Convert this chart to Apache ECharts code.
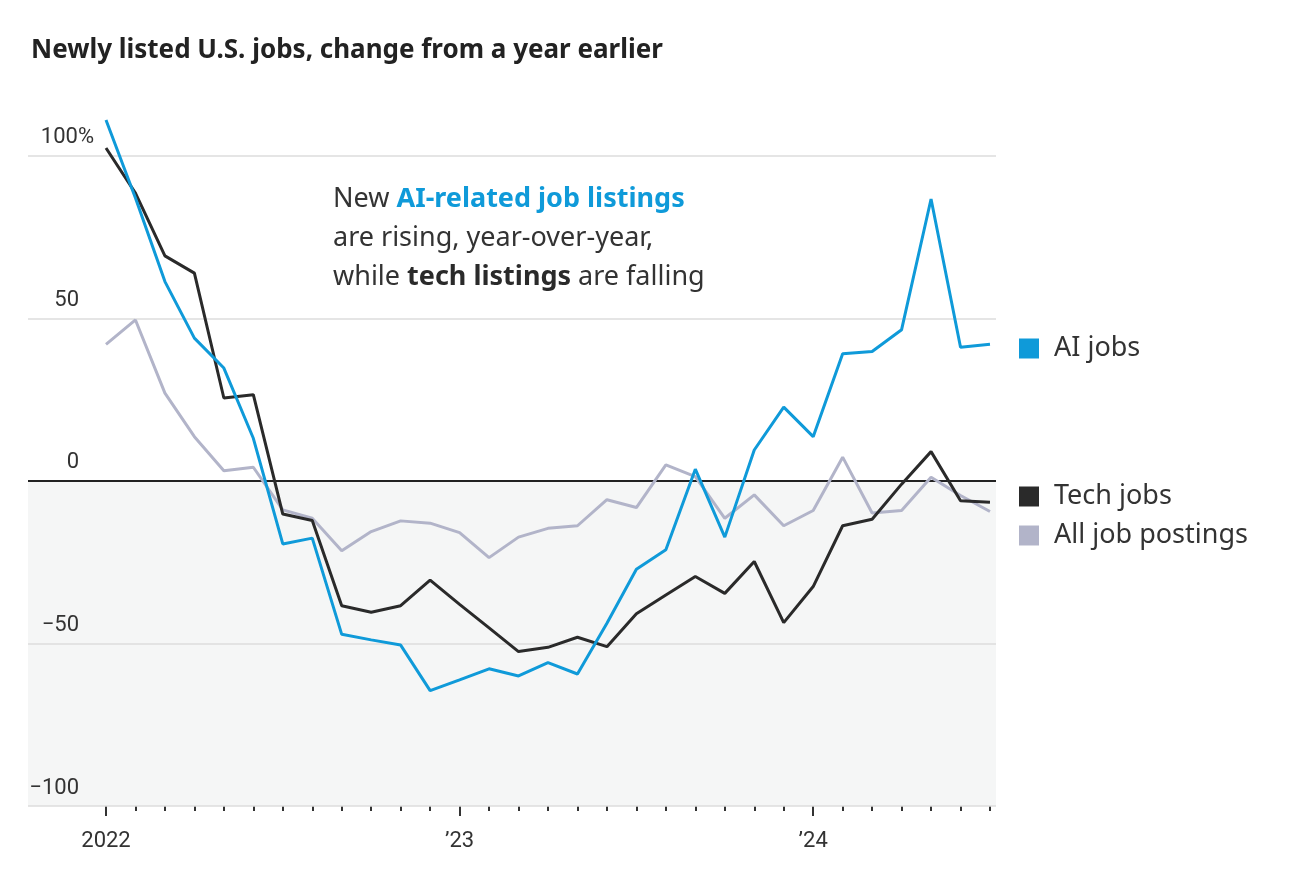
<!DOCTYPE html>
<html>
<head>
<meta charset="utf-8">
<script src="https://cdn.jsdelivr.net/npm/echarts@6/dist/echarts.min.js"></script>
<style>
html,body{margin:0;padding:0;background:#fff;}
#chart{width:1292px;height:884px;}
</style>
</head>
<body>
<div id="chart"></div>
<script>
// Months Jan 2022 .. Jul 2024 (index 0..30)
const months = ['2022-01','2022-02','2022-03','2022-04','2022-05','2022-06','2022-07','2022-08','2022-09','2022-10','2022-11','2022-12',
  '2023-01','2023-02','2023-03','2023-04','2023-05','2023-06','2023-07','2023-08','2023-09','2023-10','2023-11','2023-12',
  '2024-01','2024-02','2024-03','2024-04','2024-05','2024-06','2024-07'];
const aiJobs = [111, 87, 61.3, 43.9, 34.7, 13.1, -19.4, -17.6, -47.2, -48.9, -50.5, -64.5,
  -61.2, -57.8, -60, -55.9, -59.4, -43.8, -27.2, -21.2, 3.6, -17.3, 9.5, 22.7,
  13.6, 39.1, 39.8, 46.5, 86.7, 41.1, 42];
const techJobs = [102.4, 88.5, 69.2, 63.9, 25.5, 26.5, -10.2, -12.2, -38.4, -40.4, -38.4, -30.5,
  -38, -45.2, -52.5, -51.2, -48.1, -51, -40.9, -35.1, -29.4, -34.6, -24.8, -43.6,
  -32.5, -13.8, -11.8, -1, 9, -6.1, -6.6];
const allJobs = [42, 49.5, 27, 13.6, 3.1, 4.2, -8.9, -11.5, -21.5, -15.6, -12.3, -13,
  -15.9, -23.6, -17.3, -14.6, -13.8, -5.8, -8.2, 4.9, 1.3, -11.5, -4.3, -13.8,
  -9.1, 7.3, -9.9, -9.1, 1.1, -4.5, -9.4];
const yearTicks = {0: '2022', 12: '\u201923', 24: '\u201924'};
const yTicks = [-100, -50, 0, 50, 100];

const BLUE = '#0f9ad9', DARK = '#2a2a2a', GRAY = '#b2b4c9', TXT = '#333333';
const FONT = 'Roboto';
const FONT2 = 'Noto Sans';
const toPairs = arr => arr.map((v, i) => [i, v]);
const xMin = -2.647, xMax = 30.204;

const chart = echarts.init(document.getElementById('chart'), null, {renderer: 'canvas'});
const monthIdx = months.map((m, i) => i);
const majorIdx = Object.keys(yearTicks).map(Number);

chart.setOption({
  animation: false,
  backgroundColor: '#ffffff',
  textStyle: {fontFamily: FONT},
  title: [{
    text: 'Newly listed U.S. jobs, change from a year earlier',
    left: 26, top: 33,
    textStyle: {fontFamily: FONT2, fontSize: 26, fontWeight: 'bold', color: '#222'}
  }, {
    text: 'New {b|AI-related job listings}\nare rising, year-over-year,\nwhile {k|tech listings} are falling',
    left: 328, top: 175,
    textStyle: {
      fontFamily: FONT2, fontSize: 27, fontWeight: 'normal', color: TXT, lineHeight: 39,
      rich: {
        b: {fontFamily: FONT2, fontSize: 27, fontWeight: 'bold', color: BLUE, lineHeight: 39},
        k: {fontFamily: FONT2, fontSize: 27, fontWeight: 'bold', color: DARK, lineHeight: 39}
      }
    }
  }],
  legend: [
    {data: ['AI jobs'], top: 335},
    {data: ['Tech jobs'], top: 483},
    {data: ['All job postings'], top: 522}
  ].map(l => Object.assign({
    left: 1019, padding: 0,
    orient: 'vertical', icon: 'rect', itemWidth: 20, itemHeight: 20, itemGap: 10,
    selectedMode: false,
    textStyle: {fontFamily: FONT2, fontSize: 27, color: TXT, lineHeight: 20, padding: [0, 0, 0, 10]}
  }, l)),
  grid: {left: 28, right: 296, top: 107, bottom: 78, containLabel: false},
  xAxis: [{
    type: 'value', min: xMin, max: xMax, position: 'bottom',
    axisLine: {show: false, onZero: false},
    splitLine: {show: false},
    axisTick: {show: true, customValues: monthIdx, length: 5, lineStyle: {color: TXT, width: 2}},
    axisLabel: {show: true, customValues: majorIdx, formatter: v => yearTicks[v] || '',
      fontFamily: FONT, fontSize: 22, color: TXT, margin: 24}
  }, {
    type: 'value', min: xMin, max: xMax, position: 'bottom',
    axisLine: {show: false, onZero: false}, splitLine: {show: false},
    axisTick: {show: true, customValues: majorIdx, length: 10, lineStyle: {color: TXT, width: 2}},
    axisLabel: {show: false}
  }],
  yAxis: {
    type: 'value', min: -100, max: 115, interval: 50, z: 1,
    axisLine: {show: false}, axisTick: {show: false},
    splitLine: {show: true, lineStyle: {color: ['#dcdcdc', '#dcdcdc', 'rgba(0,0,0,0)', '#dcdcdc', '#dcdcdc', 'rgba(0,0,0,0)'], width: 1.6}},
    axisLabel: {
      inside: true, margin: 66, align: 'right', verticalAlign: 'bottom',
      customValues: yTicks,
      formatter: v => v === 100 ? '{p|100%}' : '{a|' + (v < 0 ? '\u2212' + Math.abs(v) : v) + '}',
      rich: {
        p: {fontFamily: FONT, fontSize: 22, color: TXT, padding: [0, 0, 7, 0]},
        a: {fontFamily: FONT, fontSize: 22, color: TXT, padding: [0, 15, 7, 0]}
      }
    }
  },
  series: [{
    type: 'line', data: [], z: 0, silent: true,
    markArea: {silent: true, z: -5, itemStyle: {color: '#f5f6f6'}, data: [[{xAxis: xMin, yAxis: 0}, {xAxis: xMax, yAxis: -100}]]}
  }, {
    type: 'line', data: [], z: 1, silent: true,
    markLine: {silent: true, z: 1, symbol: 'none', label: {show: false},
      lineStyle: {color: '#222', width: 2, type: 'solid'}, data: [{yAxis: 0}]}
  }, {
    name: 'All job postings', type: 'line', data: toPairs(allJobs),
    symbol: 'none', lineStyle: {color: GRAY, width: 3}, itemStyle: {color: GRAY}, z: 2
  }, {
    name: 'Tech jobs', type: 'line', data: toPairs(techJobs),
    symbol: 'none', lineStyle: {color: DARK, width: 3}, itemStyle: {color: DARK}, z: 3
  }, {
    name: 'AI jobs', type: 'line', data: toPairs(aiJobs),
    symbol: 'none', lineStyle: {color: BLUE, width: 3}, itemStyle: {color: BLUE}, z: 4
  }]
});
</script>
</body>
</html>
